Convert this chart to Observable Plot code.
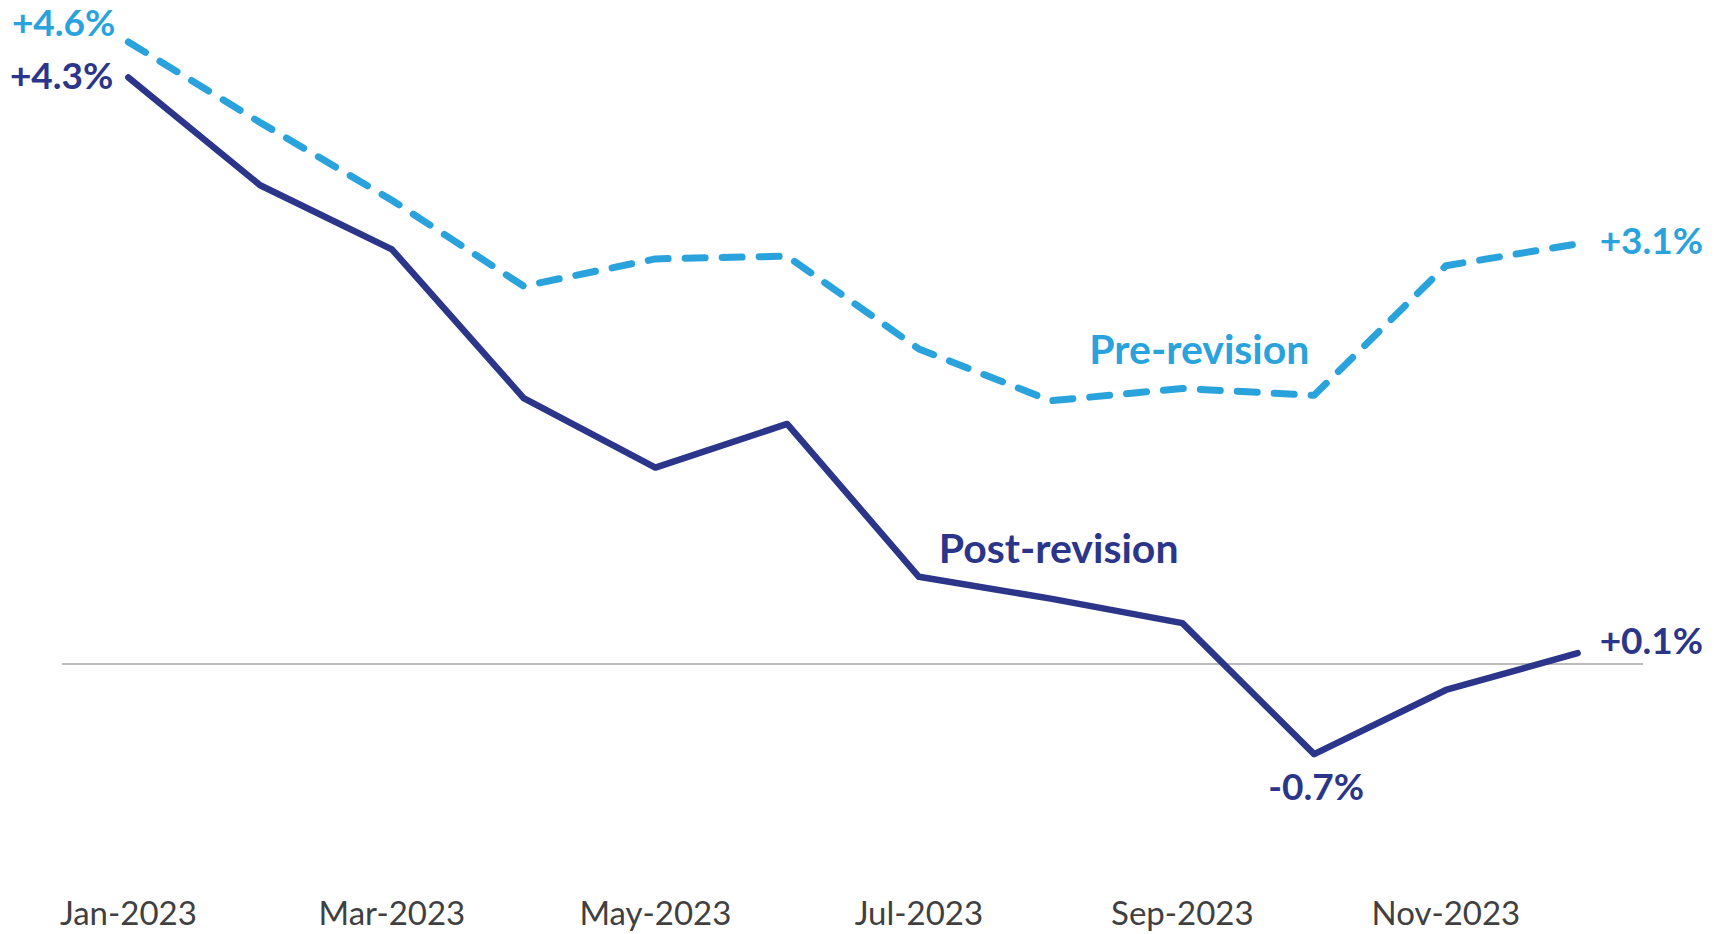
<!DOCTYPE html>
<html>
<head>
<meta charset="utf-8">
<script src="https://cdn.jsdelivr.net/npm/d3@7"></script>
<script src="https://cdn.jsdelivr.net/npm/@observablehq/plot@0.6"></script>
<style>
  html, body { margin: 0; padding: 0; background: #fff; }
  #chart svg { display: block; }
</style>
</head>
<body>
<div id="chart"></div>
<script>
const months = ["Jan-2023","Feb-2023","Mar-2023","Apr-2023","May-2023","Jun-2023",
                "Jul-2023","Aug-2023","Sep-2023","Oct-2023","Nov-2023","Dec-2023"];
const tickLabels = ["Jan-2023","Mar-2023","May-2023","Jul-2023","Sep-2023","Nov-2023"];
const postRevision = [4.30, 3.51, 3.04, 1.95, 1.44, 1.76, 0.64, 0.48, 0.30, -0.66, -0.19, 0.08];
const preRevision  = [4.56, 3.97, 3.40, 2.77, 2.97, 2.99, 2.31, 1.93, 2.02, 1.97, 2.92, 3.08];
const seriesNames = ["Post-revision", "Pre-revision"];

const POST = "#2b3589";
const PRE = "#2aa3dc";
const FONT = "Lato, 'Noto Sans', sans-serif";

const post = months.map((m, i) => ({month: m, value: postRevision[i]}));
const pre = months.map((m, i) => ({month: m, value: preRevision[i]}));
const fmt = v => (v >= 0 ? "+" : "") + v.toFixed(1) + "%";

const chart = Plot.plot({
  width: 1714,
  height: 934,
  marginLeft: 62,
  marginRight: 71,
  marginTop: 36,
  marginBottom: 134,
  style: {fontFamily: FONT, background: "#fff", overflow: "visible"},
  x: {type: "band", domain: months, padding: 0, round: false},
  y: {domain: [-1, 4.6], axis: null},
  marks: [
    Plot.ruleY([0], {stroke: "#a6a6a6", strokeWidth: 1.5}),
    Plot.axisX({ticks: tickLabels, tickSize: 0, tickPadding: 101, fontSize: 33, fill: "#404040", label: null}),
    Plot.line(pre, {x: "month", y: "value", stroke: PRE, strokeWidth: 7, strokeDasharray: "20,17", strokeLinecap: "round", strokeLinejoin: "round"}),
    Plot.line(post, {x: "month", y: "value", stroke: POST, strokeWidth: 6.5, strokeLinecap: "round", strokeLinejoin: "round"}),
    // value labels
    Plot.text([pre[0]], {x: "month", y: "value", text: d => fmt(d.value), fill: PRE, fontSize: 37, fontWeight: "bold", textAnchor: "end", dx: -13, dy: -18}),
    Plot.text([post[0]], {x: "month", y: "value", text: d => fmt(d.value), fill: POST, fontSize: 37, fontWeight: "bold", textAnchor: "end", dx: -15, dy: 0}),
    Plot.text([pre[11]], {x: "month", y: "value", text: d => fmt(d.value), fill: PRE, fontSize: 37, fontWeight: "bold", textAnchor: "start", dx: 22, dy: -2}),
    Plot.text([post[11]], {x: "month", y: "value", text: d => fmt(d.value), fill: POST, fontSize: 37, fontWeight: "bold", textAnchor: "start", dx: 22, dy: -11}),
    Plot.text([post[9]], {x: "month", y: "value", text: d => fmt(d.value), fill: POST, fontSize: 37, fontWeight: "bold", textAnchor: "middle", dx: 2, dy: 34}),
    // series labels
    Plot.text([pre[8]], {x: "month", y: "value", text: () => seriesNames[1], fill: PRE, fontSize: 41, fontWeight: "bold", textAnchor: "middle", dx: 17, dy: -38}),
    Plot.text([post[7]], {x: "month", y: "value", text: () => seriesNames[0], fill: POST, fontSize: 41, fontWeight: "bold", textAnchor: "middle", dx: 8, dy: -49})
  ]
});
document.getElementById("chart").appendChild(chart);
</script>
</body>
</html>
